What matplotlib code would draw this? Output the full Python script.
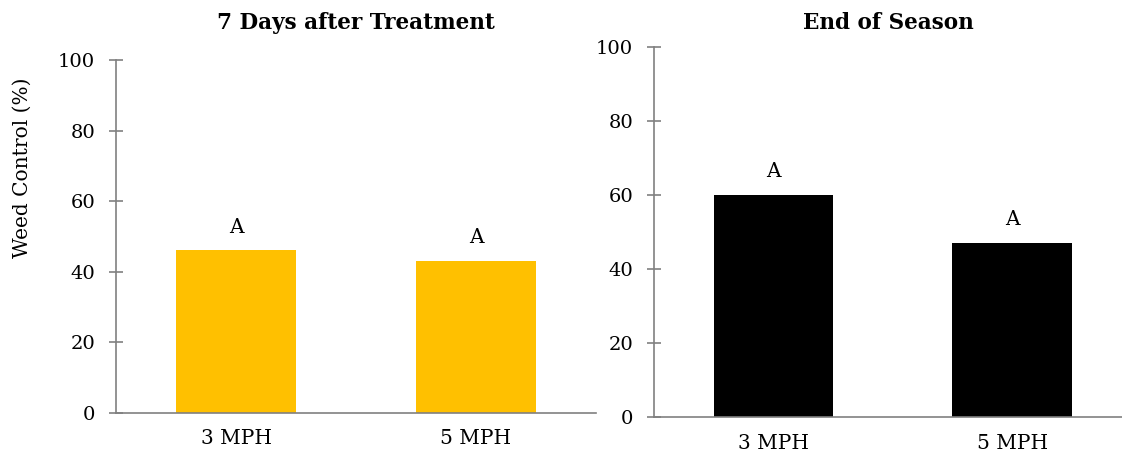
import matplotlib.pyplot as plt

# Data
categories = ['3 MPH', '5 MPH']
days7_control = [46, 43]
season_control = [60, 47]
days7_letters = ['A', 'A']
season_letters = ['A', 'A']

plt.rcParams['font.family'] = ['DejaVu Serif']

fig = plt.figure(figsize=(11.22, 4.57), dpi=100)

# Axes placed to match the reference layout
ax1 = fig.add_axes([0.1034, 0.0969, 0.4278, 0.7718])
ax2 = fig.add_axes([0.5829, 0.0869, 0.4171, 0.8110])

spine_color = '#808080'


def style_axis(ax, title, values, letters, color, xmax, title_pad):
    x = list(range(len(categories)))
    ax.bar(x, values, width=0.5, color=color)
    for xi, v, letter in zip(x, values, letters):
        ax.annotate(letter, (xi, v), xytext=(0, 10), textcoords='offset points',
                    ha='center', va='bottom', fontsize=14.5)
    ax.set_xlim(-0.5, xmax)
    ax.set_ylim(0, 100)
    ax.set_yticks([0, 20, 40, 60, 80, 100])
    ax.set_xticks(x)
    ax.set_xticklabels(categories)
    for side in ['top', 'right']:
        ax.spines[side].set_visible(False)
    for side in ['left', 'bottom']:
        ax.spines[side].set_color(spine_color)
        ax.spines[side].set_linewidth(1.2)
    ax.tick_params(axis='y', direction='inout', length=10, width=1.2,
                   color=spine_color, labelsize=14, pad=10)
    ax.tick_params(axis='x', length=0, labelsize=14.5, pad=12)
    ax.set_title(title, fontsize=15.5, fontweight='bold', pad=title_pad)


style_axis(ax1, '7 Days after Treatment', days7_control, days7_letters, '#FFC000', 1.5, 22.5)
style_axis(ax2, 'End of Season', season_control, season_letters, '#000000', 1.46, 13)

ax1.set_ylabel('Weed Control (%)', fontsize=14.5)
ax1.yaxis.set_label_coords(-0.176, 0.695)

fig.savefig('out.png', dpi=100)
